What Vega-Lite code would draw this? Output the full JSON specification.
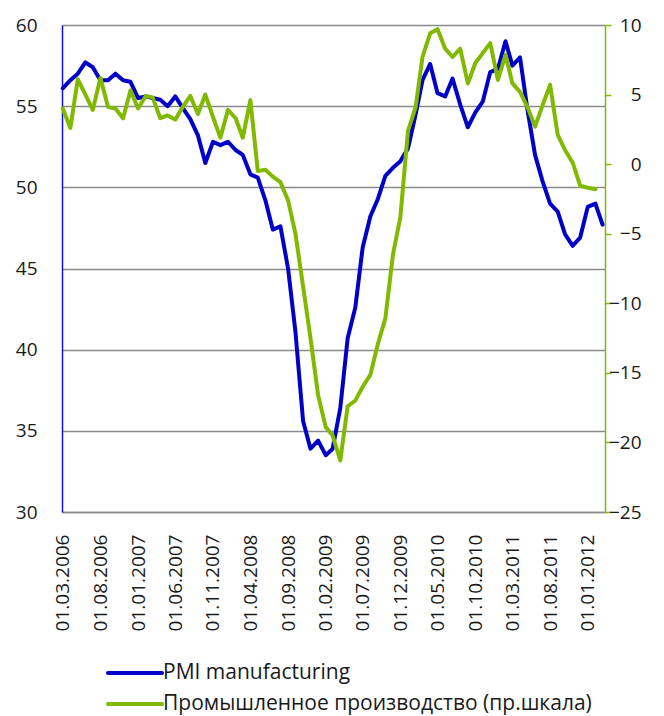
{
  "$schema": "https://vega.github.io/schema/vega-lite/v6.json",
  "width": 543,
  "height": 487,
  "autosize": {"type": "none"},
  "padding": {"left": 62, "top": 25, "right": 59, "bottom": 204},
  "background": "white",
  "config": {
    "font": "Open Sans",
    "view": {"stroke": null},
    "axis": {"labelFont": "Open Sans", "labelFontSize": 19, "labelColor": "#1a1a1a", "title": null}
  },
  "data": {
    "values": [
      {"date": "2006-03-01", "pmi": 56.1, "ip": 4.0},
      {"date": "2006-04-01", "pmi": 56.6, "ip": 2.6},
      {"date": "2006-05-01", "pmi": 57.0, "ip": 6.1},
      {"date": "2006-06-01", "pmi": 57.7, "ip": 5.0},
      {"date": "2006-07-01", "pmi": 57.4, "ip": 3.9},
      {"date": "2006-08-01", "pmi": 56.6, "ip": 6.2},
      {"date": "2006-09-01", "pmi": 56.6, "ip": 4.1},
      {"date": "2006-10-01", "pmi": 57.0, "ip": 4.0},
      {"date": "2006-11-01", "pmi": 56.6, "ip": 3.3},
      {"date": "2006-12-01", "pmi": 56.5, "ip": 5.3},
      {"date": "2007-01-01", "pmi": 55.5, "ip": 4.0},
      {"date": "2007-02-01", "pmi": 55.6, "ip": 4.9},
      {"date": "2007-03-01", "pmi": 55.5, "ip": 4.8},
      {"date": "2007-04-01", "pmi": 55.4, "ip": 3.3},
      {"date": "2007-05-01", "pmi": 55.0, "ip": 3.5},
      {"date": "2007-06-01", "pmi": 55.6, "ip": 3.2},
      {"date": "2007-07-01", "pmi": 54.9, "ip": 4.1},
      {"date": "2007-08-01", "pmi": 54.2, "ip": 4.9},
      {"date": "2007-09-01", "pmi": 53.2, "ip": 3.6},
      {"date": "2007-10-01", "pmi": 51.5, "ip": 5.0},
      {"date": "2007-11-01", "pmi": 52.8, "ip": 3.4},
      {"date": "2007-12-01", "pmi": 52.6, "ip": 1.9},
      {"date": "2008-01-01", "pmi": 52.8, "ip": 3.9},
      {"date": "2008-02-01", "pmi": 52.3, "ip": 3.3},
      {"date": "2008-03-01", "pmi": 52.0, "ip": 1.9},
      {"date": "2008-04-01", "pmi": 50.8, "ip": 4.6},
      {"date": "2008-05-01", "pmi": 50.6, "ip": -0.5},
      {"date": "2008-06-01", "pmi": 49.2, "ip": -0.4},
      {"date": "2008-07-01", "pmi": 47.4, "ip": -0.9},
      {"date": "2008-08-01", "pmi": 47.6, "ip": -1.3},
      {"date": "2008-09-01", "pmi": 45.0, "ip": -2.6},
      {"date": "2008-10-01", "pmi": 41.1, "ip": -5.0},
      {"date": "2008-11-01", "pmi": 35.6, "ip": -8.8},
      {"date": "2008-12-01", "pmi": 33.9, "ip": -12.5},
      {"date": "2009-01-01", "pmi": 34.4, "ip": -16.6},
      {"date": "2009-02-01", "pmi": 33.5, "ip": -18.9},
      {"date": "2009-03-01", "pmi": 33.9, "ip": -19.5},
      {"date": "2009-04-01", "pmi": 36.4, "ip": -21.3},
      {"date": "2009-05-01", "pmi": 40.7, "ip": -17.4},
      {"date": "2009-06-01", "pmi": 42.6, "ip": -17.0},
      {"date": "2009-07-01", "pmi": 46.3, "ip": -16.0},
      {"date": "2009-08-01", "pmi": 48.2, "ip": -15.15},
      {"date": "2009-09-01", "pmi": 49.3, "ip": -12.9},
      {"date": "2009-10-01", "pmi": 50.7, "ip": -11.1},
      {"date": "2009-11-01", "pmi": 51.2, "ip": -6.5},
      {"date": "2009-12-01", "pmi": 51.6, "ip": -3.8},
      {"date": "2010-01-01", "pmi": 52.4, "ip": 2.4},
      {"date": "2010-02-01", "pmi": 54.5, "ip": 4.1},
      {"date": "2010-03-01", "pmi": 56.6, "ip": 7.7},
      {"date": "2010-04-01", "pmi": 57.6, "ip": 9.4},
      {"date": "2010-05-01", "pmi": 55.8, "ip": 9.7},
      {"date": "2010-06-01", "pmi": 55.6, "ip": 8.3},
      {"date": "2010-07-01", "pmi": 56.7, "ip": 7.7},
      {"date": "2010-08-01", "pmi": 55.1, "ip": 8.3},
      {"date": "2010-09-01", "pmi": 53.7, "ip": 5.8},
      {"date": "2010-10-01", "pmi": 54.6, "ip": 7.25},
      {"date": "2010-11-01", "pmi": 55.3, "ip": 8.0},
      {"date": "2010-12-01", "pmi": 57.1, "ip": 8.7},
      {"date": "2011-01-01", "pmi": 57.3, "ip": 6.05},
      {"date": "2011-02-01", "pmi": 59.0, "ip": 7.85},
      {"date": "2011-03-01", "pmi": 57.5, "ip": 5.8},
      {"date": "2011-04-01", "pmi": 58.0, "ip": 5.2},
      {"date": "2011-05-01", "pmi": 54.8, "ip": 4.1},
      {"date": "2011-06-01", "pmi": 52.0, "ip": 2.7},
      {"date": "2011-07-01", "pmi": 50.4, "ip": 4.2},
      {"date": "2011-08-01", "pmi": 49.0, "ip": 5.7},
      {"date": "2011-09-01", "pmi": 48.5, "ip": 2.1},
      {"date": "2011-10-01", "pmi": 47.1, "ip": 1.0},
      {"date": "2011-11-01", "pmi": 46.4, "ip": 0.1},
      {"date": "2011-12-01", "pmi": 46.9, "ip": -1.55},
      {"date": "2012-01-01", "pmi": 48.8, "ip": -1.7},
      {"date": "2012-02-01", "pmi": 49.0, "ip": -1.8},
      {"date": "2012-03-01", "pmi": 47.7, "ip": null}
    ]
  },
  "encoding": {
    "x": {
      "field": "date",
      "type": "temporal",
      "scale": {"domain": [{"year": 2006, "month": 2, "date": 26}, {"year": 2012, "month": 3, "date": 11}]},
      "axis": {
        "title": null,
        "grid": false,
        "ticks": false,
        "tickSize": 0,
        "labelAngle": -90,
        "labelAlign": "right",
        "labelBaseline": "middle",
        "labelPadding": 22,
        "labelOverlap": false,
        "labelFlush": false,
        "domainColor": "#8a8a8a",
        "domainWidth": 1.3,
        "format": "%d.%m.%Y",
        "values": [
          {"year": 2006, "month": 3, "date": 1},
          {"year": 2006, "month": 8, "date": 1},
          {"year": 2007, "month": 1, "date": 1},
          {"year": 2007, "month": 6, "date": 1},
          {"year": 2007, "month": 11, "date": 1},
          {"year": 2008, "month": 4, "date": 1},
          {"year": 2008, "month": 9, "date": 1},
          {"year": 2009, "month": 2, "date": 1},
          {"year": 2009, "month": 7, "date": 1},
          {"year": 2009, "month": 12, "date": 1},
          {"year": 2010, "month": 5, "date": 1},
          {"year": 2010, "month": 10, "date": 1},
          {"year": 2011, "month": 3, "date": 1},
          {"year": 2011, "month": 8, "date": 1},
          {"year": 2012, "month": 1, "date": 1}
        ]
      }
    }
  },
  "layer": [
    {
      "mark": {"type": "line", "strokeWidth": 4, "strokeJoin": "round", "strokeCap": "round"},
      "encoding": {
        "y": {
          "field": "pmi",
          "type": "quantitative",
          "scale": {"domain": [30, 60], "nice": false, "zero": false},
          "axis": {
            "orient": "left",
            "values": [30, 35, 40, 45, 50, 55, 60],
            "grid": true,
            "gridColor": "#8a8a8a",
            "gridWidth": 1.3,
            "domainColor": "#1010e0",
            "domainWidth": 1.5,
            "ticks": false,
            "tickSize": 0,
            "labelPadding": 25,
            "title": null
          }
        },
        "color": {
          "datum": "PMI manufacturing",
          "type": "nominal",
          "scale": {
            "domain": ["PMI manufacturing", "Промышленное производство (пр.шкала)"],
            "range": ["#0000c8", "#80b900"]
          },
          "legend": {
            "orient": "none",
            "legendX": 57.5,
            "legendY": 632.5,
            "direction": "vertical",
            "title": null,
            "symbolType": "M-2,0H2",
            "symbolSize": 729,
            "symbolStrokeWidth": 4,
            "labelFont": "Open Sans",
            "labelFontSize": 21,
            "labelColor": "#1a1a1a",
            "labelOffset": 12.5,
            "rowPadding": 5,
            "labelLimit": 600,
            "padding": 0,
            "offset": 0,
            "encode": {"symbols": {"update": {"strokeCap": {"value": "round"}}}}
          }
        }
      }
    },
    {
      "mark": {"type": "line", "strokeWidth": 4, "strokeJoin": "round", "strokeCap": "round"},
      "encoding": {
        "y": {
          "field": "ip",
          "type": "quantitative",
          "scale": {"domain": [-25, 10], "nice": false, "zero": false},
          "axis": {
            "orient": "right",
            "values": [-25, -20, -15, -10, -5, 0, 5, 10],
            "grid": false,
            "domainColor": "#80b900",
            "domainWidth": 1.5,
            "ticks": true,
            "tickColor": "#80b900",
            "tickSize": 6,
            "tickWidth": 1.5,
            "labelAlign": "right",
            "labelPadding": 30,
            "title": null
          }
        },
        "color": {"datum": "Промышленное производство (пр.шкала)", "type": "nominal"}
      }
    }
  ],
  "resolve": {"scale": {"y": "independent"}}
}
